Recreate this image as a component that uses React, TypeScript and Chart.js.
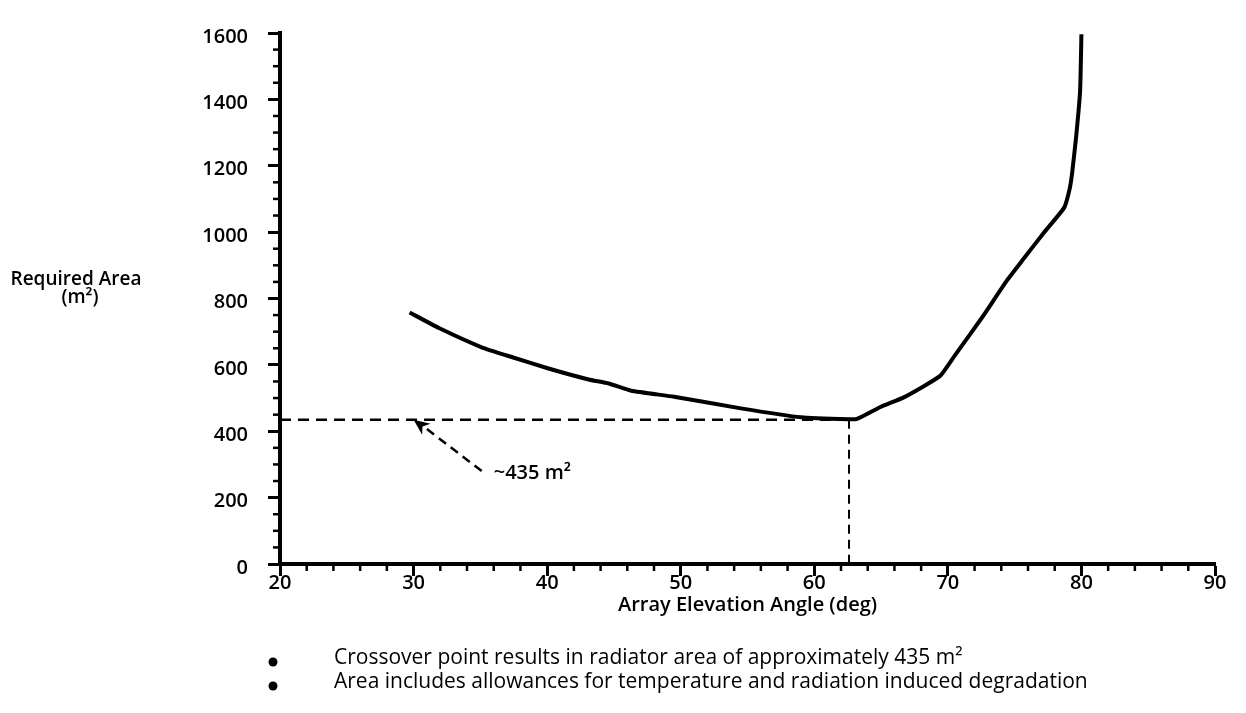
import React, { useEffect, useRef } from 'react';
import { Chart, registerables } from 'chart.js';

Chart.register(...registerables);

// ---- Data ----
const angleDeg = [29.7, 31.9, 35.1, 37.4, 40.1, 43.1, 44.6, 46.3, 49.5, 54.5, 59.0, 62.6, 63.2, 65.0, 66.7, 69.4, 70.5, 72.6, 74.4, 75.7, 77.2, 78.7, 79.1, 79.3, 79.6, 79.9, 80.0];
const requiredArea = [758, 711, 653, 623, 589, 556, 544, 522, 504, 469, 442, 436, 437, 474, 502, 566, 627, 745, 853, 921, 999, 1073, 1127, 1177, 1286, 1425, 1596];

const xMin = 20;
const xMax = 90;
const xStep = 10;
const xMinorStep = 2;
const yMin = 0;
const yMax = 1600;
const yStep = 200;
const yMinorStep = 50;

const crossoverAngle = [62.6];
const crossoverArea = [435];
const arrowTailAngle = [35.1];
const arrowTailArea = [280];
const arrowTipAngle = [30.0];
const arrowTipArea = [435];
const calloutAngle = [36.0];
const calloutArea = [272];

const calloutLabel = '~435 m²';
const xTitle = 'Array Elevation Angle (deg)';
const yTitleLines = ['Required Area', '(m²)'];
const notes = [
  'Crossover point results in radiator area of approximately 435 m²',
  'Area includes allowances for temperature and radiation induced degradation',
];

const FONT = '"Open Sans", "DejaVu Sans", sans-serif';

const annotatePlugin = {
  id: 'annotate',
  afterDraw(chart: any) {
    const { ctx, chartArea, scales } = chart;
    const x = scales.x;
    const y = scales.y;
    ctx.save();
    ctx.strokeStyle = '#000';
    ctx.fillStyle = '#000';
    ctx.lineWidth = 2.5;
    // minor ticks
    for (let v = yMin + yMinorStep; v < yMax; v += yMinorStep) {
      if (v % yStep === 0) continue;
      const py = y.getPixelForValue(v);
      ctx.beginPath();
      ctx.moveTo(chartArea.left - 7, py);
      ctx.lineTo(chartArea.left, py);
      ctx.stroke();
    }
    for (let v = xMin + xMinorStep; v < xMax; v += xMinorStep) {
      if (v % xStep === 0) continue;
      const px = x.getPixelForValue(v);
      ctx.beginPath();
      ctx.moveTo(px, chartArea.bottom);
      ctx.lineTo(px, chartArea.bottom + 7);
      ctx.stroke();
    }
    // arrowhead
    const tx = x.getPixelForValue(arrowTipAngle[0]);
    const ty = y.getPixelForValue(arrowTipArea[0]);
    const sx = x.getPixelForValue(arrowTailAngle[0]);
    const sy = y.getPixelForValue(arrowTailArea[0]);
    const ang = Math.atan2(ty - sy, tx - sx);
    const L = 16;
    const W = 7;
    const c = Math.cos(ang);
    const s = Math.sin(ang);
    ctx.beginPath();
    ctx.moveTo(tx, ty);
    ctx.lineTo(tx - L * c + W * s, ty - L * s - W * c);
    ctx.lineTo(tx - L * c * 0.7, ty - L * s * 0.7);
    ctx.lineTo(tx - L * c - W * s, ty - L * s + W * c);
    ctx.closePath();
    ctx.fill();
    // callout
    ctx.font = `600 20px ${FONT}`;
    ctx.textBaseline = 'middle';
    ctx.textAlign = 'left';
    ctx.fillText(calloutLabel, x.getPixelForValue(calloutAngle[0]), y.getPixelForValue(calloutArea[0]));
    // y title
    ctx.textAlign = 'center';
    ctx.font = `600 19px ${FONT}`;
    ctx.fillText(yTitleLines[0], 76, 280);
    ctx.fillText(yTitleLines[1], 80, 298);
    // notes
    ctx.textAlign = 'left';
    ctx.font = `500 21px ${FONT}`;
    notes.forEach((t, i) => {
      const ly = 658 + i * 24;
      ctx.beginPath();
      ctx.arc(273, ly + 4, 4.5, 0, Math.PI * 2);
      ctx.fill();
      ctx.fillText(t, 334, ly);
    });
    ctx.restore();
  },
};

export default function App() {
  const canvasRef = useRef<HTMLCanvasElement | null>(null);

  useEffect(() => {
    const canvas = canvasRef.current;
    if (!canvas) return;
    const curve = angleDeg.map((a, i) => ({ x: a, y: requiredArea[i] }));
    const hLine = [
      { x: xMin, y: crossoverArea[0] },
      { x: crossoverAngle[0], y: crossoverArea[0] },
    ];
    const vLine = [
      { x: crossoverAngle[0], y: crossoverArea[0] },
      { x: crossoverAngle[0], y: yMin },
    ];
    const arrowShaft = [
      { x: arrowTailAngle[0], y: arrowTailArea[0] },
      { x: arrowTipAngle[0] + 0.4, y: arrowTipArea[0] - 10 },
    ];
    const tickFont = { family: FONT, size: 20, weight: '600' as const };
    const chart = new Chart(canvas, {
      type: 'scatter',
      data: {
        datasets: [
          { data: curve, showLine: true, borderColor: '#000', borderWidth: 4, pointRadius: 0, tension: 0.15, clip: false } as any,
          { data: hLine, showLine: true, borderColor: '#000', borderWidth: 2.5, borderDash: [11, 7], pointRadius: 0 } as any,
          { data: vLine, showLine: true, borderColor: '#000', borderWidth: 2, borderDash: [9, 6], pointRadius: 0 } as any,
          { data: arrowShaft, showLine: true, borderColor: '#000', borderWidth: 2.5, borderDash: [9, 6], pointRadius: 0 } as any,
        ],
      },
      options: {
        animation: false,
        responsive: false,
        layout: { padding: { left: 0, top: 33, right: 31, bottom: 96 } },
        plugins: { legend: { display: false }, tooltip: { enabled: false } },
        events: [],
        scales: {
          x: {
            type: 'linear',
            min: xMin,
            max: xMax,
            afterFit: (s: any) => { s.height = 53; },
            ticks: { stepSize: xStep, color: '#000', font: tickFont, padding: -5, callback: (v: any) => String(v) },
            grid: { drawOnChartArea: false, drawTicks: true, tickLength: 12, tickWidth: 3, tickColor: '#000' },
            border: { display: true, color: '#000', width: 4 },
            title: { display: true, text: xTitle, color: '#000', font: { family: FONT, size: 20, weight: '600' }, padding: 0 },
          },
          y: {
            type: 'linear',
            min: yMin,
            max: yMax,
            afterFit: (s: any) => { s.width = 280; },
            ticks: { stepSize: yStep, color: '#000', font: tickFont, padding: 20, labelOffset: 4, callback: (v: any) => String(v) },
            grid: { drawOnChartArea: false, drawTicks: true, tickLength: 12, tickWidth: 3, tickColor: '#000' },
            border: { display: true, color: '#000', width: 4 },
          },
        },
      },
      plugins: [annotatePlugin],
    } as any);
    return () => chart.destroy();
  }, []);

  return (
    <div style={{ position: 'absolute', left: 0, top: 0, width: 1246, height: 713, background: '#fff' }}>
      <canvas ref={canvasRef} width={1246} height={713} style={{ display: 'block' }} />
    </div>
  );
}
